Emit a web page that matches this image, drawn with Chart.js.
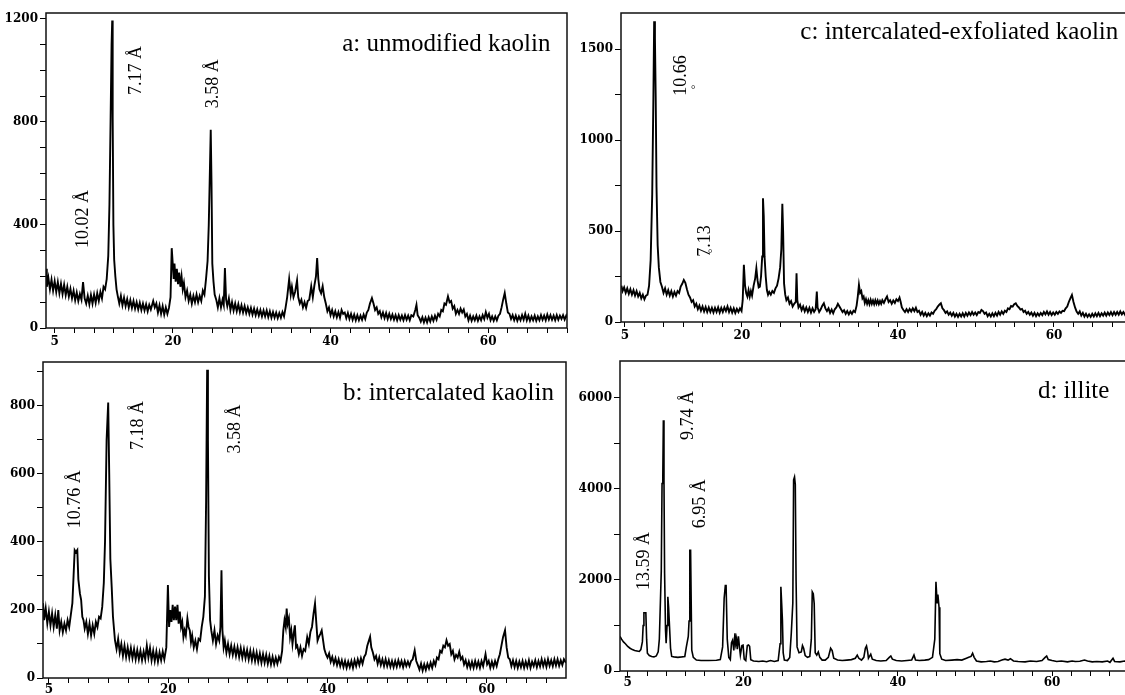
<!DOCTYPE html>
<html>
<head>
<meta charset="utf-8">
<script src="https://cdn.jsdelivr.net/npm/chart.js@4.4.1/dist/chart.umd.min.js"></script>
<style>
  html, body { margin: 0; padding: 0; background: #fff; width: 1125px; height: 695px; overflow: hidden; }
  .panel { position: absolute; }
</style>
</head>
<body>
<div class="panel" style="left:0;top:0"><canvas id="chartA" width="575" height="348"></canvas></div>
<div class="panel" style="left:0;top:349px"><canvas id="chartB" width="575" height="346"></canvas></div>
<div class="panel" style="left:575px;top:0"><canvas id="chartC" width="565" height="342"></canvas></div>
<div class="panel" style="left:575px;top:348px"><canvas id="chartD" width="565" height="347"></canvas></div>
<script>
// 2-theta ticks (every 2.5 deg) and the ones that get a label
const xTicks = [5, 7.5, 10, 12.5, 15, 17.5, 20, 22.5, 25, 27.5, 30, 32.5, 35, 37.5, 40,
  42.5, 45, 47.5, 50, 52.5, 55, 57.5, 60, 62.5, 65, 67.5, 70];
const xTickLabels = [5, 20, 40, 60];

const yTicksA = [0, 100, 200, 300, 400, 500, 600, 700, 800, 900, 1000, 1100, 1200];
const yLabelsA = [0, 400, 800, 1200];
const yTicksB = [0, 100, 200, 300, 400, 500, 600, 700, 800, 900];
const yLabelsB = [0, 200, 400, 600, 800];
const yTicksC = [0, 250, 500, 750, 1000, 1250, 1500];
const yLabelsC = [0, 500, 1000, 1500];
const yTicksD = [0, 1000, 2000, 3000, 4000, 5000, 6000];
const yLabelsD = [0, 2000, 4000, 6000];

// [2theta, counts]
const patternA = [[3.9,230],[4.0,160],[4.2,195],[4.4,150],[4.6,188],[4.8,145],[5.0,182],[5.2,140],[5.4,178],[5.6,135],[5.8,172],[6.0,132],[6.2,168],[6.4,128],[6.6,160],[6.8,122],[7.0,152],[7.2,115],[7.4,145],[7.6,108],[7.8,138],[8.0,105],[8.2,132],[8.4,110],[8.6,178],[8.8,115],[9.0,95],[9.2,125],[9.4,92],[9.6,128],[9.8,95],[10.0,130],[10.2,98],[10.4,135],[10.6,105],[10.8,140],[11.0,115],[11.2,160],[11.4,150],[11.6,190],[11.8,280],[11.95,480],[12.1,820],[12.22,1100],[12.3,1194],[12.36,820],[12.45,400],[12.55,265],[12.7,200],[12.85,150],[13.0,125],[13.2,95],[13.4,125],[13.6,88],[13.8,118],[14.0,85],[14.2,112],[14.4,80],[14.6,108],[14.8,78],[15.0,105],[15.2,75],[15.4,100],[15.6,72],[15.8,98],[16.0,70],[16.2,95],[16.4,68],[16.6,92],[16.8,65],[17.0,90],[17.2,72],[17.5,105],[17.7,80],[17.9,95],[18.1,60],[18.3,88],[18.5,55],[18.7,85],[18.9,52],[19.1,80],[19.3,55],[19.5,78],[19.7,120],[19.85,310],[20.0,240],[20.1,190],[20.2,250],[20.35,180],[20.5,230],[20.65,170],[20.8,215],[20.95,160],[21.1,200],[21.25,150],[21.4,175],[21.6,120],[21.8,145],[22.0,105],[22.2,130],[22.4,95],[22.6,125],[22.8,100],[23.0,130],[23.2,100],[23.4,125],[23.6,105],[23.8,145],[24.0,130],[24.2,190],[24.4,260],[24.55,400],[24.7,620],[24.8,770],[24.9,560],[25.0,250],[25.15,180],[25.3,130],[25.5,110],[25.7,80],[25.9,115],[26.1,80],[26.3,110],[26.45,90],[26.6,233],[26.75,110],[26.9,85],[27.1,115],[27.3,70],[27.5,100],[27.7,68],[27.9,95],[28.1,65],[28.3,92],[28.5,62],[28.7,88],[28.9,60],[29.1,85],[29.3,58],[29.5,80],[29.7,55],[29.9,78],[30.1,52],[30.3,75],[30.5,50],[30.7,72],[30.9,48],[31.1,70],[31.3,45],[31.5,68],[31.7,45],[31.9,68],[32.1,42],[32.3,65],[32.5,40],[32.7,62],[32.9,40],[33.1,60],[33.3,38],[33.5,58],[33.7,40],[33.9,62],[34.1,45],[34.3,80],[34.5,120],[34.75,190],[34.95,130],[35.1,160],[35.3,120],[35.5,140],[35.75,185],[35.9,120],[36.1,95],[36.3,110],[36.5,80],[36.7,100],[36.9,78],[37.1,105],[37.3,110],[37.55,162],[37.75,120],[37.95,165],[38.15,200],[38.3,272],[38.45,190],[38.6,150],[38.8,135],[39.0,162],[39.2,120],[39.4,95],[39.6,65],[39.8,80],[40.0,50],[40.2,70],[40.4,45],[40.6,65],[40.8,42],[41.0,62],[41.2,40],[41.4,70],[41.6,55],[41.8,60],[42.0,38],[42.2,58],[42.4,35],[42.6,55],[42.8,32],[43.0,52],[43.2,30],[43.4,50],[43.6,30],[43.8,48],[44.0,32],[44.2,52],[44.4,35],[44.6,60],[44.8,70],[45.0,95],[45.25,116],[45.45,95],[45.65,70],[45.85,80],[46.05,55],[46.25,65],[46.45,42],[46.65,60],[46.85,38],[47.05,58],[47.25,35],[47.45,55],[47.65,35],[47.85,52],[48.05,32],[48.25,50],[48.45,30],[48.65,50],[48.85,32],[49.05,48],[49.25,30],[49.45,50],[49.65,32],[49.85,48],[50.05,30],[50.25,50],[50.5,45],[50.75,70],[50.9,90],[51.05,50],[51.25,40],[51.45,25],[51.65,42],[51.85,22],[52.05,40],[52.25,22],[52.45,42],[52.65,25],[52.85,45],[53.05,28],[53.25,48],[53.45,32],[53.65,55],[53.85,45],[54.05,70],[54.25,65],[54.45,95],[54.65,90],[54.9,123],[55.1,100],[55.3,105],[55.5,75],[55.7,85],[55.9,55],[56.1,70],[56.3,55],[56.5,75],[56.7,60],[56.9,72],[57.1,45],[57.3,55],[57.5,30],[57.7,48],[57.9,28],[58.1,45],[58.3,30],[58.5,48],[58.7,28],[58.9,45],[59.1,30],[59.3,50],[59.5,35],[59.7,62],[59.9,40],[60.1,55],[60.3,30],[60.5,45],[60.7,28],[60.9,45],[61.1,30],[61.3,48],[61.5,55],[61.7,80],[61.9,110],[62.1,136],[62.3,95],[62.5,60],[62.7,55],[62.9,35],[63.1,50],[63.3,30],[63.5,48],[63.7,28],[63.9,45],[64.1,30],[64.3,50],[64.5,32],[64.7,55],[64.9,30],[65.1,48],[65.3,28],[65.5,45],[65.7,30],[65.9,48],[66.1,28],[66.3,45],[66.5,30],[66.7,50],[66.9,32],[67.1,48],[67.3,30],[67.5,52],[67.7,33],[67.9,50],[68.1,32],[68.3,48],[68.5,30],[68.7,50],[68.9,32],[69.1,48],[69.3,35],[69.5,50],[69.7,33],[69.9,48],[70.0,40]];

const patternB = [[4.26,220],[4.4,170],[4.6,205],[4.8,160],[5.0,195],[5.2,155],[5.4,190],[5.6,150],[5.8,185],[6.0,145],[6.18,200],[6.35,140],[6.55,165],[6.75,135],[6.95,160],[7.15,140],[7.35,170],[7.55,150],[7.75,185],[7.95,220],[8.1,300],[8.24,376],[8.4,370],[8.57,376],[8.7,290],[8.9,248],[9.05,230],[9.2,180],[9.35,170],[9.5,145],[9.7,165],[9.9,130],[10.1,160],[10.3,125],[10.5,155],[10.7,130],[10.9,165],[11.1,150],[11.3,180],[11.5,175],[11.7,209],[11.9,280],[12.05,400],[12.25,700],[12.45,810],[12.58,600],[12.72,350],[12.89,268],[13.05,180],[13.3,111],[13.5,85],[13.7,115],[13.9,75],[14.1,100],[14.3,65],[14.5,95],[14.7,62],[14.9,90],[15.1,60],[15.3,88],[15.5,58],[15.7,85],[15.9,55],[16.1,82],[16.3,55],[16.5,80],[16.7,52],[16.9,78],[17.1,55],[17.3,95],[17.5,60],[17.7,88],[17.9,52],[18.1,80],[18.3,50],[18.5,78],[18.7,48],[18.9,75],[19.1,52],[19.3,78],[19.5,55],[19.75,90],[19.95,273],[20.1,150],[20.25,200],[20.4,165],[20.55,215],[20.7,170],[20.85,210],[21.0,170],[21.15,215],[21.3,160],[21.45,195],[21.6,150],[21.75,165],[21.9,120],[22.05,140],[22.2,125],[22.4,175],[22.55,150],[22.7,140],[22.85,105],[23.0,125],[23.2,90],[23.4,110],[23.6,85],[23.8,115],[24.0,110],[24.2,150],[24.4,180],[24.6,240],[24.75,520],[24.88,906],[24.98,700],[25.1,300],[25.25,170],[25.4,140],[25.6,110],[25.8,140],[26.0,100],[26.2,125],[26.4,110],[26.55,150],[26.68,317],[26.8,140],[26.95,90],[27.1,110],[27.3,75],[27.5,100],[27.7,70],[27.9,95],[28.1,68],[28.3,92],[28.5,65],[28.7,90],[28.9,62],[29.1,88],[29.3,60],[29.5,85],[29.7,58],[29.9,82],[30.1,55],[30.3,80],[30.5,52],[30.7,78],[30.9,50],[31.1,75],[31.3,48],[31.5,72],[31.7,45],[31.9,70],[32.1,45],[32.3,68],[32.5,42],[32.7,65],[32.9,40],[33.1,62],[33.3,40],[33.5,60],[33.7,42],[33.9,62],[34.1,50],[34.3,80],[34.45,140],[34.6,170],[34.75,150],[34.87,204],[35.0,160],[35.15,175],[35.3,120],[35.45,140],[35.6,100],[35.75,130],[35.9,155],[36.05,90],[36.2,95],[36.4,70],[36.6,90],[36.8,65],[37.0,85],[37.2,80],[37.45,120],[37.65,100],[37.85,135],[38.05,150],[38.25,190],[38.43,219],[38.6,160],[38.75,110],[38.9,120],[39.1,130],[39.27,140],[39.45,110],[39.6,85],[39.8,70],[40.0,60],[40.2,72],[40.4,48],[40.6,62],[40.8,42],[41.0,58],[41.2,38],[41.4,55],[41.6,35],[41.8,52],[42.0,32],[42.2,50],[42.4,30],[42.6,48],[42.8,32],[43.0,50],[43.2,30],[43.4,52],[43.6,35],[43.8,55],[44.0,38],[44.2,58],[44.4,42],[44.6,62],[44.8,70],[45.0,95],[45.2,110],[45.35,121],[45.5,90],[45.7,75],[45.9,55],[46.1,65],[46.3,42],[46.5,60],[46.7,38],[46.9,55],[47.1,35],[47.3,55],[47.5,35],[47.7,52],[47.9,33],[48.1,50],[48.3,32],[48.5,50],[48.7,33],[48.9,52],[49.1,35],[49.3,50],[49.5,32],[49.7,50],[49.9,35],[50.1,48],[50.3,35],[50.5,50],[50.7,55],[50.95,81],[51.15,50],[51.35,38],[51.55,25],[51.75,42],[51.95,22],[52.15,40],[52.35,24],[52.55,42],[52.75,28],[52.95,45],[53.15,30],[53.35,50],[53.55,38],[53.75,60],[53.95,55],[54.15,80],[54.35,75],[54.55,95],[54.75,90],[54.95,111],[55.15,95],[55.35,100],[55.55,70],[55.75,80],[55.95,55],[56.15,68],[56.35,60],[56.55,77],[56.75,55],[56.95,62],[57.15,40],[57.35,52],[57.55,32],[57.75,48],[57.95,30],[58.15,48],[58.35,30],[58.55,50],[58.75,32],[58.95,48],[59.15,30],[59.35,50],[59.55,35],[59.85,70],[60.05,40],[60.25,50],[60.45,30],[60.65,48],[60.85,32],[61.05,50],[61.25,35],[61.45,55],[61.65,70],[61.85,95],[62.05,120],[62.3,140],[62.5,90],[62.7,60],[62.9,55],[63.1,35],[63.3,52],[63.5,32],[63.7,50],[63.9,30],[64.1,48],[64.3,32],[64.5,50],[64.7,30],[64.9,48],[65.1,32],[65.3,52],[65.5,30],[65.7,48],[65.9,35],[66.1,52],[66.3,32],[66.5,50],[66.7,34],[66.9,55],[67.1,35],[67.3,52],[67.5,33],[67.7,55],[67.9,36],[68.1,52],[68.3,35],[68.5,55],[68.7,37],[68.9,55],[69.1,36],[69.3,52],[69.5,38],[69.7,55],[69.95,45]];

const patternC = [[4.55,200],[4.7,170],[4.9,190],[5.1,160],[5.3,185],[5.5,155],[5.7,180],[5.9,150],[6.1,175],[6.3,145],[6.5,170],[6.7,140],[6.9,160],[7.1,130],[7.3,150],[7.5,125],[7.7,145],[7.9,150],[8.1,200],[8.3,340],[8.5,700],[8.65,1230],[8.75,1652],[8.85,1560],[8.95,1230],[9.05,744],[9.2,420],[9.35,300],[9.55,220],[9.75,194],[9.95,160],[10.15,185],[10.35,150],[10.55,175],[10.75,145],[10.95,170],[11.15,140],[11.35,165],[11.55,145],[11.75,170],[11.95,160],[12.15,195],[12.35,210],[12.55,231],[12.75,215],[12.95,180],[13.15,150],[13.35,135],[13.55,110],[13.75,120],[13.95,85],[14.15,100],[14.35,70],[14.55,90],[14.75,62],[14.95,85],[15.15,58],[15.35,82],[15.55,55],[15.75,80],[15.95,55],[16.15,78],[16.35,52],[16.55,78],[16.75,55],[16.95,80],[17.15,52],[17.35,78],[17.55,55],[17.75,80],[17.95,60],[18.15,85],[18.35,55],[18.55,78],[18.75,52],[18.95,75],[19.15,50],[19.35,72],[19.55,55],[19.75,75],[19.95,60],[20.1,120],[20.25,314],[20.4,200],[20.55,158],[20.7,140],[20.85,175],[21.0,140],[21.15,170],[21.3,145],[21.5,200],[21.7,240],[21.85,295],[22.0,230],[22.15,190],[22.3,194],[22.45,250],[22.6,360],[22.7,680],[22.8,580],[22.9,359],[23.05,250],[23.2,176],[23.35,150],[23.5,165],[23.7,150],[23.9,170],[24.1,160],[24.3,185],[24.5,200],[24.7,240],[24.9,300],[25.05,400],[25.18,649],[25.28,500],[25.4,212],[25.55,150],[25.7,120],[25.9,135],[26.1,100],[26.3,115],[26.5,85],[26.7,100],[26.9,110],[27.0,268],[27.1,120],[27.25,80],[27.45,95],[27.65,65],[27.85,85],[28.05,58],[28.25,80],[28.45,55],[28.65,78],[28.85,52],[29.05,75],[29.25,55],[29.45,70],[29.6,167],[29.7,80],[29.9,55],[30.1,70],[30.3,90],[30.5,103],[30.7,75],[30.9,60],[31.1,75],[31.3,50],[31.5,68],[31.7,48],[31.9,70],[32.1,80],[32.3,100],[32.5,85],[32.7,70],[32.9,55],[33.1,65],[33.3,45],[33.5,60],[33.7,42],[33.9,58],[34.1,45],[34.3,62],[34.5,55],[34.7,90],[34.85,140],[35.0,204],[35.15,160],[35.3,170],[35.45,130],[35.6,140],[35.75,105],[35.9,125],[36.05,100],[36.2,120],[36.35,98],[36.5,122],[36.65,100],[36.8,118],[36.95,98],[37.1,120],[37.25,100],[37.4,118],[37.55,98],[37.7,115],[37.85,100],[38.0,120],[38.2,105],[38.4,125],[38.6,140],[38.8,110],[39.0,120],[39.2,100],[39.4,118],[39.6,105],[39.8,125],[40.0,115],[40.2,134],[40.35,110],[40.5,80],[40.7,66],[40.9,55],[41.1,70],[41.3,55],[41.5,72],[41.7,58],[41.9,75],[42.1,60],[42.3,78],[42.5,55],[42.7,62],[42.9,40],[43.1,55],[43.3,35],[43.5,50],[43.7,32],[43.9,48],[44.1,35],[44.3,52],[44.5,45],[44.7,62],[44.9,70],[45.1,85],[45.3,95],[45.5,103],[45.7,75],[45.9,65],[46.1,50],[46.3,58],[46.5,40],[46.7,52],[46.9,35],[47.1,50],[47.3,30],[47.5,45],[47.7,28],[47.9,45],[48.1,30],[48.3,48],[48.5,30],[48.7,50],[48.9,35],[49.1,52],[49.3,38],[49.5,55],[49.7,40],[49.9,52],[50.1,38],[50.3,55],[50.5,50],[50.7,66],[50.9,60],[51.1,45],[51.3,52],[51.5,32],[51.7,45],[51.9,30],[52.1,48],[52.3,32],[52.5,50],[52.7,35],[52.9,55],[53.1,40],[53.3,58],[53.5,45],[53.7,62],[53.9,55],[54.1,75],[54.3,70],[54.5,88],[54.7,85],[54.9,98],[55.1,103],[55.3,88],[55.5,80],[55.7,68],[55.9,72],[56.1,55],[56.3,62],[56.5,45],[56.7,55],[56.9,40],[57.1,52],[57.3,35],[57.5,50],[57.7,32],[57.9,48],[58.1,35],[58.3,50],[58.5,38],[58.7,55],[58.9,42],[59.1,58],[59.3,40],[59.5,55],[59.7,38],[59.9,52],[60.1,40],[60.3,55],[60.5,45],[60.7,58],[60.9,50],[61.1,62],[61.3,60],[61.5,75],[61.7,85],[61.9,110],[62.1,130],[62.3,149],[62.5,110],[62.7,80],[62.9,57],[63.1,45],[63.3,58],[63.5,35],[63.7,50],[63.9,30],[64.1,45],[64.3,28],[64.5,42],[64.7,28],[64.9,45],[65.1,30],[65.3,48],[65.5,32],[65.7,50],[65.9,32],[66.1,48],[66.3,35],[66.5,52],[66.7,35],[66.9,52],[67.1,38],[67.3,55],[67.5,38],[67.7,55],[67.9,40],[68.1,55],[68.3,40],[68.5,58],[68.7,42],[68.9,55],[69.1,40],[69.3,58],[69.5,42],[69.7,55],[70.0,45]];

const patternD = [[4.0,760],[4.2,700],[4.45,640],[4.7,600],[5.0,540],[5.3,500],[5.6,470],[5.9,450],[6.2,440],[6.5,430],[6.7,470],[6.9,640],[7.0,1000],[7.1,1280],[7.35,1280],[7.45,700],[7.55,390],[7.8,340],[8.1,320],[8.4,310],[8.7,330],[8.95,420],[9.1,700],[9.2,1300],[9.35,2200],[9.45,4120],[9.55,4300],[9.62,5510],[9.7,4200],[9.78,2150],[9.9,900],[9.98,610],[10.1,1000],[10.2,1630],[10.3,1400],[10.42,970],[10.55,500],[10.7,320],[11.0,310],[11.5,300],[12.0,310],[12.4,320],[12.6,530],[12.85,760],[12.95,1100],[13.05,2650],[13.15,2650],[13.3,460],[13.5,300],[13.9,240],[14.5,230],[15.5,230],[16.5,235],[17.0,250],[17.3,530],[17.5,1600],[17.65,1880],[17.75,1880],[17.9,700],[18.1,300],[18.3,250],[18.45,620],[18.6,680],[18.75,450],[18.9,830],[19.0,600],[19.1,700],[19.2,480],[19.35,760],[19.5,500],[19.6,350],[19.8,560],[19.95,570],[20.1,260],[20.3,230],[20.5,560],[20.65,570],[20.8,540],[20.95,250],[21.3,220],[22.0,210],[22.5,220],[23.0,205],[23.5,230],[24.0,210],[24.5,230],[24.75,600],[24.85,1850],[24.95,1500],[25.05,1120],[25.15,400],[25.3,240],[25.7,230],[26.0,300],[26.2,830],[26.4,1500],[26.5,4200],[26.62,4266],[26.72,4100],[26.82,2000],[26.95,530],[27.2,400],[27.5,420],[27.65,560],[27.8,500],[28.0,340],[28.3,300],[28.6,320],[28.8,700],[28.92,1740],[29.05,1700],[29.17,1480],[29.3,400],[29.5,350],[29.7,420],[29.9,300],[30.2,240],[30.6,240],[31.0,300],[31.3,500],[31.5,450],[31.7,280],[32.2,240],[32.8,230],[33.4,240],[34.0,250],[34.5,280],[34.75,350],[34.95,280],[35.3,240],[35.6,300],[35.8,500],[35.95,550],[36.1,420],[36.2,280],[36.5,370],[36.7,260],[37.2,230],[37.8,220],[38.5,230],[38.9,300],[39.1,330],[39.3,260],[39.8,230],[40.5,220],[41.2,230],[41.8,240],[42.1,350],[42.3,240],[42.8,230],[43.5,240],[44.0,250],[44.5,300],[44.8,700],[44.95,1960],[45.1,1500],[45.2,1680],[45.35,1400],[45.45,380],[45.7,260],[46.2,230],[47.0,240],[47.7,250],[48.3,240],[48.9,280],[49.2,300],[49.5,320],[49.7,390],[49.9,300],[50.2,220],[50.8,200],[51.5,210],[52.0,220],[52.5,200],[53.0,210],[53.5,240],[53.9,260],[54.3,240],[54.6,270],[55.0,220],[55.6,210],[56.5,200],[57.2,220],[58.0,210],[58.7,230],[59.1,300],[59.3,330],[59.5,250],[60.0,230],[60.6,210],[61.2,220],[62.0,200],[62.6,220],[63.0,210],[63.6,215],[64.2,240],[64.6,220],[65.2,200],[65.8,210],[66.5,200],[67.2,220],[67.5,190],[67.9,280],[68.1,210],[68.8,200],[69.4,220],[70.0,190]];

// annotation text: [text, 2theta, counts] (rotated peak labels start at that point)
const titleA = ['a: unmodified kaolin', 67.9, 1076];
const titleB = ['b: intercalated kaolin', 68.45, 817];
const titleC = ['c: intercalated-exfoliated kaolin', 68.24, 1555];
const titleD = ['d: illite', 67.43, 6000];
const peakLabelsA = [['10.02 Å', 9.2, 311], ['7.17 Å', 16.0, 905], ['3.58 Å', 25.75, 853]];
const peakLabelsB = [['10.76 Å', 8.9, 440], ['7.18 Å', 16.8, 670], ['3.58 Å', 29.0, 660]];
const peakLabelsC = [['10.66', 12.86, 1243], ['7.13', 15.85, 359]];
const ringsC = [[13.76, 1286], [15.94, 386]];
const peakLabelsD = [['13.59 Å', 7.8, 1780], ['9.74 Å', 13.5, 5077], ['6.95 Å', 15.03, 3136]];

const tickFont = { family: '"DejaVu Serif"', size: 12, weight: 'bold' };

const decorPlugin = {
  id: 'decor',
  afterDraw(chart, _args, o) {
    const { ctx, chartArea: a } = chart;
    const x = chart.scales.x, y = chart.scales.y;
    ctx.save();
    ctx.strokeStyle = '#111';
    ctx.lineWidth = 1.5;
    ctx.strokeRect(a.left, a.top, a.right - a.left, a.bottom - a.top);

    ctx.fillStyle = '#000';
    ctx.font = '25px "Liberation Serif"';
    ctx.textAlign = 'right';
    ctx.textBaseline = 'alphabetic';
    ctx.fillText(o.title[0], x.getPixelForValue(o.title[1]), y.getPixelForValue(o.title[2]));

    ctx.font = '18px "Liberation Serif"';
    ctx.textAlign = 'left';
    o.peaks.forEach(([t, px, py]) => {
      ctx.save();
      ctx.translate(x.getPixelForValue(px), y.getPixelForValue(py));
      ctx.rotate(-Math.PI / 2);
      ctx.fillText(t, 0, 0);
      ctx.restore();
    });

    // the stray rings left of the broken Å in panel c
    ctx.font = '11px "Liberation Serif"';
    ctx.textAlign = 'center';
    (o.rings || []).forEach(([px, py]) => {
      ctx.fillText('°', x.getPixelForValue(px), y.getPixelForValue(py) + 5);
    });
    ctx.restore();
  }
};

function makePanel(id, cfg) {
  const ctx = document.getElementById(id).getContext('2d');
  return new Chart(ctx, {
    type: 'scatter',
    data: {
      datasets: [{
        data: cfg.pattern.map(([t, c]) => ({ x: t, y: c })),
        showLine: true,
        borderColor: '#000',
        borderWidth: cfg.lineWidth,
        pointRadius: 0,
        tension: 0
      }]
    },
    options: {
      responsive: false,
      animation: false,
      layout: { padding: { top: 13, right: cfg.padRight, left: 0, bottom: 0 } },
      plugins: {
        legend: { display: false },
        tooltip: { enabled: false },
        decor: { title: cfg.title, peaks: cfg.peaks, rings: cfg.rings }
      },
      scales: {
        x: {
          type: 'linear',
          min: cfg.xMin,
          max: cfg.xMax,
          afterBuildTicks: s => { s.ticks = xTicks.filter(v => v <= cfg.xMax + 0.01).map(v => ({ value: v })); },
          afterFit: s => { s.height = cfg.xAxisH; },
          border: { display: false },
          grid: { drawOnChartArea: false, tickLength: 5, color: '#000', lineWidth: 1 },
          ticks: {
            autoSkip: false, maxRotation: 0, color: '#000', font: tickFont, padding: cfg.xPad,
            callback: v => xTickLabels.includes(v) ? String(v) : ''
          }
        },
        y: {
          type: 'linear',
          min: 0,
          max: cfg.yMax,
          afterBuildTicks: s => { s.ticks = cfg.yTicks.map(v => ({ value: v })); },
          afterFit: s => { s.width = cfg.yAxisW; },
          border: { display: false },
          grid: { drawOnChartArea: false, tickLength: 6, color: '#000', lineWidth: 1 },
          ticks: {
            autoSkip: false, color: '#000', font: tickFont, padding: 2,
            callback: v => cfg.yLabels.includes(v) ? String(v) : ''
          }
        }
      }
    },
    plugins: [decorPlugin]
  });
}

makePanel('chartA', {
  pattern: patternA, lineWidth: 1.9, xMin: 3.9, xMax: 70, yMax: 1223,
  yTicks: yTicksA, yLabels: yLabelsA, yAxisW: 46, xAxisH: 20, xPad: 2, padRight: 8,
  title: titleA, peaks: peakLabelsA
});
makePanel('chartB', {
  pattern: patternB, lineWidth: 1.9, xMin: 4.26, xMax: 69.96, yMax: 929,
  yTicks: yTicksB, yLabels: yLabelsB, yAxisW: 43, xAxisH: 17, xPad: 0, padRight: 9,
  title: titleB, peaks: peakLabelsB
});
makePanel('chartC', {
  pattern: patternC, lineWidth: 1.9, xMin: 4.5, xMax: 70, yMax: 1698,
  yTicks: yTicksC, yLabels: yLabelsC, yAxisW: 46, xAxisH: 20, xPad: 2, padRight: 8,
  title: titleC, peaks: peakLabelsC, rings: ringsC
});
makePanel('chartD', {
  pattern: patternD, lineWidth: 1.6, xMin: 4.0, xMax: 70.1, yMax: 6813,
  yTicks: yTicksD, yLabels: yLabelsD, yAxisW: 45, xAxisH: 24, xPad: 0, padRight: 10,
  title: titleD, peaks: peakLabelsD
});
</script>
</body>
</html>
